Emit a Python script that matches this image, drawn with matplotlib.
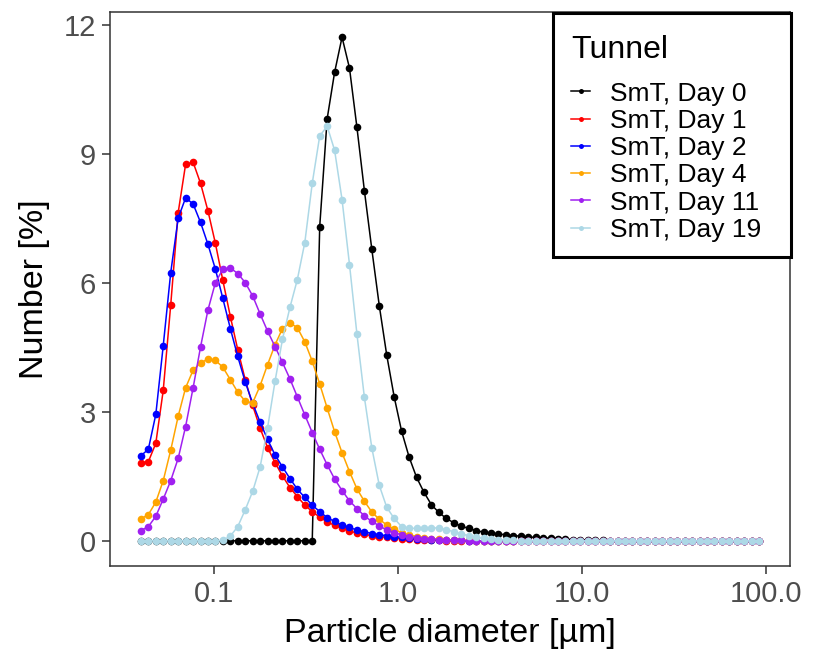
import numpy as np
import matplotlib
matplotlib.use("Agg")
import matplotlib.pyplot as plt
from matplotlib.patches import Rectangle

plt.rcParams["font.family"] = ["Liberation Sans", "DejaVu Sans"]

# Laser diffraction size channels (µm)
diameter_um = [
    0.0400, 0.0439, 0.0482, 0.0529, 0.0581, 0.0638, 0.0700, 0.0769, 0.0844, 0.0926,
    0.1017, 0.1116, 0.1226, 0.1345, 0.1477, 0.1621, 0.1780, 0.1954, 0.2145, 0.2355,
    0.2585, 0.2837, 0.3115, 0.3419, 0.3754, 0.4121, 0.4523, 0.4966, 0.5451, 0.5984,
    0.6569, 0.7212, 0.7917, 0.8691, 0.9540, 1.047, 1.150, 1.262, 1.385, 1.521,
    1.669, 1.833, 2.012, 2.208, 2.424, 2.661, 2.921, 3.207, 3.520, 3.864,
    4.242, 4.657, 5.112, 5.612, 6.161, 6.763, 7.424, 8.150, 8.947, 9.822,
    10.78, 11.83, 12.99, 14.26, 15.65, 17.18, 18.86, 20.71, 22.73, 24.95,
    27.39, 30.07, 33.01, 36.24, 39.78, 43.67, 47.94, 52.62, 57.77, 63.41,
    69.61, 76.42, 83.89, 92.09,
]

N_CH = len(diameter_um)

def pad(values):
    return list(values) + [0.0] * (N_CH - len(values))

day0 = pad([
    0, 0, 0, 0, 0, 0, 0, 0, 0, 0, 0, 0, 0, 0, 0, 0, 0, 0, 0, 0, 0, 0, 0, 0,
    7.31, 9.82, 10.90, 11.72, 11.00, 9.62, 8.15, 6.78, 5.47, 4.32,
    3.35, 2.55, 1.95, 1.48, 1.13, 0.84, 0.66, 0.52, 0.42, 0.34,
    0.29, 0.24, 0.20, 0.18, 0.16, 0.14, 0.12, 0.11, 0.09, 0.08,
    0.07, 0.06, 0.05, 0.04, 0.03, 0.02, 0.02, 0.01, 0.01,
])
day1 = pad([
    1.82, 1.84, 2.27, 3.50, 5.49, 7.64, 8.76, 8.81, 8.32, 7.68,
    6.92, 6.06, 5.22, 4.45, 3.75, 3.15, 2.62, 2.17, 1.82, 1.51,
    1.24, 1.03, 0.83, 0.68, 0.55, 0.44, 0.36, 0.29, 0.23, 0.18,
    0.15, 0.12, 0.10, 0.08, 0.06, 0.05, 0.04, 0.03, 0.02, 0.02, 0.01,
])
day2 = pad([
    1.98, 2.13, 2.94, 4.54, 6.24, 7.51, 7.98, 7.84, 7.41, 6.90,
    6.32, 5.64, 4.94, 4.29, 3.70, 3.20, 2.76, 2.36, 2.00, 1.72,
    1.45, 1.20, 1.01, 0.83, 0.68, 0.54, 0.45, 0.37, 0.31, 0.25,
    0.21, 0.17, 0.14, 0.12, 0.10, 0.08, 0.06, 0.05, 0.04, 0.03,
    0.02, 0.02, 0.01, 0.01,
])
day4 = pad([
    0.51, 0.61, 0.90, 1.40, 2.11, 2.90, 3.56, 3.97, 4.14, 4.23,
    4.20, 4.04, 3.75, 3.46, 3.25, 3.21, 3.61, 4.10, 4.56, 4.94,
    5.07, 4.96, 4.63, 4.18, 3.65, 3.09, 2.54, 2.05, 1.61, 1.21,
    0.92, 0.67, 0.50, 0.37, 0.27, 0.19, 0.14, 0.10, 0.07, 0.05,
    0.04, 0.03, 0.02, 0.01, 0.01,
])
day11 = pad([
    0.24, 0.33, 0.57, 0.97, 1.40, 1.92, 2.66, 3.56, 4.51, 5.37,
    6.01, 6.32, 6.35, 6.22, 6.01, 5.70, 5.28, 4.88, 4.52, 4.15,
    3.77, 3.35, 2.93, 2.52, 2.13, 1.77, 1.44, 1.17, 0.93, 0.75,
    0.58, 0.45, 0.35, 0.25, 0.19, 0.14, 0.10, 0.07, 0.05, 0.04,
    0.03, 0.02, 0.01, 0.01,
])
day19 = pad([
    0, 0, 0, 0, 0, 0, 0, 0, 0, 0, 0, 0.01,
    0.11, 0.33, 0.72, 1.15, 1.72, 2.63, 3.71, 4.69, 5.43, 6.08,
    6.94, 8.32, 9.42, 9.65, 9.09, 7.94, 6.43, 4.81, 3.34, 2.16,
    1.29, 0.78, 0.52, 0.33, 0.29, 0.29, 0.29, 0.30, 0.30, 0.26,
    0.21, 0.16, 0.12, 0.08, 0.06, 0.04, 0.03, 0.02, 0.01,
])

labels = ["SmT, Day 0", "SmT, Day 1", "SmT, Day 2", "SmT, Day 4", "SmT, Day 11", "SmT, Day 19"]
colors = ["#000000", "#FF0000", "#0000FF", "#FFA500", "#A020F0", "#ADD8E6"]
values = [day0, day1, day2, day4, day11, day19]

W, H = 813, 659
fig = plt.figure(figsize=(W / 100, H / 100), dpi=100)
ax = fig.add_axes([110 / W, 1 - 566 / H, 680 / W, 554 / H])

handles = []
for lab, col, vals in zip(labels, colors, values):
    h, = ax.plot(diameter_um, vals, color=col, lw=1.1, marker="o", ms=5.5, mew=0, label=lab)
    handles.append(h)

ax.set_xscale("log")
lo, hi = np.log10(min(diameter_um)), np.log10(max(diameter_um))
ex = 0.05 * (hi - lo)
ax.set_xlim(10 ** (lo - ex), 10 ** (hi + ex))
ymax = max(max(v) for v in values)
ax.set_ylim(-0.05 * ymax, 1.05 * ymax)

ax.set_xticks([0.1, 1, 10, 100])
ax.set_xticklabels(["0.1", "1.0", "10.0", "100.0"])
ax.xaxis.set_minor_locator(matplotlib.ticker.NullLocator())
ax.set_yticks([0, 3, 6, 9, 12])

for s in ax.spines.values():
    s.set_color("#333333")
    s.set_linewidth(1.1)
ax.tick_params(axis="both", which="major", direction="out", length=5.5, width=1.1,
               color="#333333", labelcolor="#4D4D4D", labelsize=21, pad=4.5)

ax.set_xlabel("Particle diameter [µm]", fontsize=24.5, color="black")
ax.set_ylabel("Number [%]", fontsize=24.5, color="black")
ax.xaxis.set_label_coords(0.5, (566 - 618) / 554)
ax.yaxis.set_label_coords((50 - 110) / 680, 0.5)

# Legend: framed box in the top-right corner of the panel
box = Rectangle((553 / W, 1 - 257 / H), 238 / W, 244 / H, transform=fig.transFigure,
                facecolor="white", edgecolor="black", lw=2.2, zorder=2)
fig.add_artist(box)
fig.text(571 / W, 1 - 58 / H, "Tunnel", fontsize=23, color="black",
         ha="left", va="baseline", zorder=4)
leg = fig.legend(handles, labels, loc="upper left",
                 bbox_to_anchor=(571 / W, 1 - 81.5 / H), bbox_transform=fig.transFigure,
                 frameon=False, borderpad=0, borderaxespad=0,
                 fontsize=19, handlelength=0.72, handletextpad=0.76,
                 labelspacing=0.125, markerscale=0.65)
leg.set_zorder(3)

fig.savefig("out.png", dpi=100)
